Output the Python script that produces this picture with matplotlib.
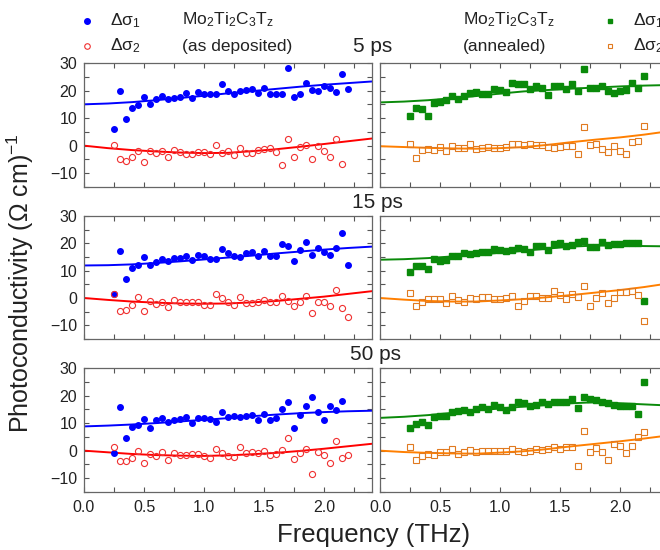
import matplotlib
matplotlib.use('Agg')
import numpy as np
import matplotlib.pyplot as plt
from matplotlib.ticker import MultipleLocator

plt.rcParams['font.family'] = ['Liberation Sans', 'DejaVu Sans']
plt.rcParams['mathtext.fontset'] = 'custom'
plt.rcParams['mathtext.rm'] = 'Liberation Sans'
plt.rcParams['mathtext.it'] = 'Liberation Sans:italic'
plt.rcParams['mathtext.default'] = 'regular'

# frequency grid of the measured points (THz)
freq = [0.25, 0.30, 0.35, 0.40, 0.45, 0.50, 0.55, 0.60, 0.65, 0.70,
        0.75, 0.80, 0.85, 0.90, 0.95, 1.00, 1.05, 1.10, 1.15, 1.20,
        1.25, 1.30, 1.35, 1.40, 1.45, 1.50, 1.55, 1.60, 1.65, 1.70,
        1.75, 1.80, 1.85, 1.90, 1.95, 2.00, 2.05, 2.10, 2.15, 2.20]
# frequencies where the fit curves were read
fit_freq = [0.0, 0.2, 0.4, 0.6, 0.8, 1.0, 1.2, 1.4, 1.6, 1.8, 2.0, 2.2, 2.4]

nan = np.nan

# as deposited, 5 ps
dep5_s1 = [6.0, 19.8, 9.7, 13.8, 14.7, 17.7, 15.1, 16.9, 18.0, 16.8,
           17.3, 17.7, 19.1, 17.4, 19.5, 18.9, 18.9, 18.8, 22.5, 19.8,
           18.9, 19.8, 20.1, 20.7, 19.2, 21.1, 18.7, 18.9, 18.9, 28.2,
           17.5, 18.7, 22.8, 20.1, 19.8, 21.5, 21.1, 19.4, 26.1, 20.5]
dep5_s2 = [0.1, -4.8, -5.4, -4.1, -1.8, -6.0, -1.8, -2.7, -2.0, -4.1,
           -1.4, -2.4, -2.9, -2.9, -2.3, -2.4, -2.9, 0.2, -2.7, -2.0,
           -3.3, -0.7, -2.7, -2.7, -1.4, -1.2, -1.0, -2.4, -6.9, 2.5,
           -4.2, -0.6, 0.1, -4.9, -0.2, -2.0, -4.2, 2.3, -6.6, nan]
dep5_fit1 = [15.0, 15.3, 15.8, 16.5, 17.3, 18.1, 19.0, 19.8, 20.6, 21.4, 22.1, 22.7, 23.3]
dep5_fit2 = [0.0, -0.9, -1.6, -2.1, -2.5, -2.7, -2.6, -2.0, -1.3, -0.4, 0.6, 1.6, 2.6]

# annealed, 5 ps
ann5_s1 = [10.9, 13.5, 13.3, 10.9, 15.6, 15.8, 16.4, 18.1, 17.1, 18.2,
           19.2, 19.4, 18.9, 18.7, 20.4, 20.3, 19.5, 22.8, 22.2, 22.2,
           20.5, 21.6, 21.1, 18.3, 21.5, 21.6, 20.5, 22.2, 20.0, 27.7,
           20.9, 20.9, 21.6, 19.8, 19.2, 19.9, 20.1, 22.8, 21.0, 25.3]
ann5_s2 = [0.6, -4.4, -1.7, -1.3, -1.7, -0.5, -1.9, -0.1, -0.7, -0.7,
           0.5, -1.2, -0.8, -0.5, -1.0, -1.0, -0.6, 0.7, 0.7, 0.1,
           0.7, 0.4, 0.1, -0.5, -0.8, -0.5, -0.2, -0.2, -3.0, 6.6,
           0.1, 0.6, -1.1, -2.3, -0.1, -1.8, -2.9, 1.4, 1.6, 7.2]
ann5_fit1 = [15.7, 16.0, 16.5, 17.2, 18.0, 18.9, 19.7, 20.2, 20.7, 21.1, 21.5, 21.8, 22.0]
ann5_fit2 = [-0.2, -0.5, -0.8, -1.0, -1.1, -0.9, -0.5, 0.3, 1.3, 2.2, 3.0, 4.0, 5.2]

# as deposited, 15 ps
dep15_s1 = [1.3, 17.2, 7.1, 11.0, 12.2, 15.1, 12.2, 13.1, 14.3, 13.4,
            14.6, 14.6, 15.5, 13.9, 15.9, 15.3, 14.3, 14.1, 17.8, 16.4,
            15.2, 15.1, 16.5, 17.0, 15.2, 17.3, 15.4, 15.4, 19.8, 18.9,
            13.4, 17.6, 20.4, 15.9, 18.2, 17.0, 15.8, 18.3, 23.7, 11.9]
dep15_s2 = [1.4, -4.7, -4.3, -2.5, 0.5, -4.7, -1.1, -2.2, -1.6, -3.4,
            -0.8, -1.3, -1.6, -1.6, -1.6, -2.5, -2.5, 1.4, -0.1, -1.6,
            -2.5, 0.4, -1.9, -1.9, -1.6, -0.7, -1.3, -1.6, 0.7, -1.1,
            -3.0, -1.3, 0.7, -5.5, -1.3, -1.6, -3.1, 2.8, -3.5, -7.0]
dep15_fit1 = [11.9, 12.0, 12.3, 12.8, 13.4, 14.1, 14.8, 15.5, 16.3, 17.0, 17.7, 18.3, 18.8]
dep15_fit2 = [0.0, -0.7, -1.3, -1.7, -2.0, -2.1, -2.0, -1.6, -1.1, -0.3, 0.5, 1.5, 2.5]

# annealed, 15 ps
ann15_s1 = [9.5, 11.6, 11.8, 10.5, 14.3, 13.4, 14.0, 15.4, 15.3, 16.5,
            16.1, 16.5, 16.7, 16.7, 18.0, 17.6, 17.3, 17.6, 18.3, 18.1,
            17.0, 19.2, 18.9, 17.7, 19.6, 20.0, 18.9, 19.4, 20.6, 20.8,
            18.6, 18.6, 20.6, 19.4, 19.6, 19.9, 20.0, 20.0, 20.0, -1.1]
ann15_s2 = [1.9, -3.1, -1.6, -0.5, -0.5, -0.5, -1.7, 0.6, -0.8, -1.6,
            0.0, -0.5, 0.4, 0.4, -0.4, -0.4, 0.0, 0.7, -3.1, -1.1,
            0.8, 0.8, 0.1, 0.1, 2.5, 1.1, -0.4, 1.3, 0.2, 4.3,
            -2.9, -0.1, 1.7, -1.9, -0.1, 2.2, 2.2, 2.5, 1.1, -8.3]
ann15_fit1 = [14.0, 14.2, 14.6, 15.2, 15.8, 16.5, 17.3, 18.1, 18.8, 19.2, 19.2, 19.0, 18.9]
ann15_fit2 = [0.0, -0.6, -1.1, -1.3, -1.3, -0.9, -0.4, 0.3, 1.1, 2.0, 2.9, 4.0, 5.3]

# as deposited, 50 ps
dep50_s1 = [-0.8, 15.8, 4.6, 8.6, 9.3, 11.4, 8.2, 11.0, 11.7, 10.4,
            11.0, 11.4, 12.2, 9.9, 11.9, 12.0, 11.4, 10.5, 14.1, 12.2,
            12.7, 12.3, 12.7, 13.1, 11.2, 13.4, 11.2, 12.0, 15.1, 17.8,
            8.2, 12.8, 16.3, 19.3, 14.0, 11.1, 16.3, 14.9, 18.1, nan]
dep50_s2 = [1.2, -3.6, -3.6, -2.5, -0.2, -4.5, -1.1, -1.8, -0.5, -3.3,
            -0.8, -1.7, -1.7, -1.1, -1.1, -1.8, -2.8, 0.6, -0.8, -1.8,
            -2.3, 1.2, -0.8, -0.5, -0.8, -0.2, -1.4, -1.1, 0.4, 4.5,
            -3.0, -0.8, 0.6, -8.3, -0.6, -1.7, -4.5, 3.4, -2.7, -1.7]
dep50_fit1 = [8.8, 9.1, 9.5, 10.0, 10.6, 11.2, 11.8, 12.5, 13.1, 13.6, 14.0, 14.3, 14.5]
dep50_fit2 = [0.0, -0.6, -1.2, -1.6, -1.8, -1.9, -1.7, -1.3, -0.8, -0.1, 0.7, 1.6, 2.5]

# annealed, 50 ps
ann50_s1 = [8.3, 9.6, 10.4, 9.2, 12.3, 12.5, 12.7, 14.0, 14.5, 14.7,
            14.2, 15.3, 15.7, 15.2, 16.4, 16.0, 14.9, 16.0, 17.5, 17.2,
            16.1, 16.7, 17.5, 17.0, 17.5, 17.5, 17.5, 18.7, 15.5, 19.4,
            18.8, 18.4, 17.7, 17.2, 16.4, 16.3, 16.3, 16.3, 13.4, 24.8]
ann50_s2 = [1.3, -3.3, -2.0, -1.1, -1.7, -0.5, -0.4, 0.6, -1.1, -0.6,
            0.2, -0.5, 0.0, 0.0, 0.0, -0.2, 0.0, 0.7, 0.0, -0.5,
            0.0, 0.7, 0.4, 0.6, 1.2, 0.6, 1.3, 1.3, -5.7, 7.0,
            -0.6, 1.0, -0.6, -3.3, 2.5, 1.8, -0.8, 1.8, 4.9, 6.7]
ann50_fit1 = [11.9, 12.3, 12.9, 13.7, 14.6, 15.3, 16.0, 16.6, 17.2, 17.6, 17.2, 16.8, 16.4]
ann50_fit2 = [0.0, -0.5, -0.8, -1.0, -1.1, -0.7, -0.2, 0.6, 1.6, 2.5, 3.4, 4.4, 5.5]

delays = ['5 ps', '15 ps', '50 ps']
dep_rows = [(dep5_s1, dep5_s2, dep5_fit1, dep5_fit2),
            (dep15_s1, dep15_s2, dep15_fit1, dep15_fit2),
            (dep50_s1, dep50_s2, dep50_fit1, dep50_fit2)]
ann_rows = [(ann5_s1, ann5_s2, ann5_fit1, ann5_fit2),
            (ann15_s1, ann15_s2, ann15_fit1, ann15_fit2),
            (ann50_s1, ann50_s2, ann50_fit1, ann50_fit2)]

blue, red = '#0000ff', '#ff0000'
red_pt = '#f03030'
green, orange = '#0a8a0a', '#ff7f00'
orange_pt = '#e07a20'

W, H = 660, 550
fig = plt.figure(figsize=(6.6, 5.5), dpi=100)

# panel boxes in pixels: (top, bottom)
row_px = [(63, 187), (216, 339), (368, 492)]
col_px = [84, 380]
pw = 288


def style_axes(ax, xlabels, ylabels):
    ax.set_xlim(0, 2.4)
    ax.set_ylim(-15, 30)
    ax.xaxis.set_major_locator(MultipleLocator(0.5))
    ax.xaxis.set_minor_locator(MultipleLocator(0.25))
    ax.yaxis.set_major_locator(MultipleLocator(10))
    ax.yaxis.set_minor_locator(MultipleLocator(5))
    ax.tick_params(which='both', direction='in', top=True, right=True,
                   color='#555555', labelsize=11.5, labelcolor='#222222')
    ax.tick_params(which='major', length=3.5, width=0.8)
    ax.tick_params(which='minor', length=3.5, width=0.8)
    ax.tick_params(axis='x', pad=6)
    ax.tick_params(axis='y', pad=5)
    if not xlabels:
        ax.tick_params(axis='x', labelbottom=False)
    if not ylabels:
        ax.tick_params(axis='y', labelleft=False)
    for sp in ax.spines.values():
        sp.set_color('#666666')
        sp.set_linewidth(0.9)
    ax.set_facecolor('none')


for i in range(3):
    top, bot = row_px[i]
    for j in range(2):
        ax = fig.add_axes([col_px[j] / W, 1 - bot / H, pw / W, (bot - top) / H])
        style_axes(ax, xlabels=(i == 2), ylabels=(j == 0))
        if j == 0:
            s1, s2, f1, f2 = dep_rows[i]
            ax.plot(fit_freq, f1, color=blue, lw=1.4, zorder=2)
            ax.plot(fit_freq, f2, color=red, lw=1.4, zorder=2)
            ax.plot(freq, s1, 'o', color=blue, ms=4.0, mec=blue, zorder=3)
            ax.plot(freq, s2, 'o', mfc='none', mec=red_pt, ms=4.4, mew=0.8, zorder=3)
        else:
            s1, s2, f1, f2 = ann_rows[i]
            ax.plot(fit_freq, f1, color=green, lw=1.4, zorder=2)
            ax.plot(fit_freq, f2, color=orange, lw=1.4, zorder=2)
            ax.plot(freq, s1, 's', color=green, ms=3.8, mec=green, zorder=3)
            ax.plot(freq, s2, 's', mfc='none', mec=orange_pt, ms=3.8, mew=0.8, zorder=3)

# overlay in pixel coordinates for the legend and labels
ov = fig.add_axes([0, 0, 1, 1])
ov.set_xlim(0, W)
ov.set_ylim(H, 0)
ov.axis('off')

ov.plot(87, 21, 'o', color=blue, ms=4)
ov.plot(87, 46, 'o', mfc='none', mec=red_pt, ms=4, mew=0.8)
ov.text(110, 21, r'$\Delta\sigma_1$', fontsize=12.5, va='center', color='#222222')
ov.text(110, 46, r'$\Delta\sigma_2$', fontsize=12.5, va='center', color='#222222')
ov.text(182, 20, 'Mo$_2$Ti$_2$C$_3$T$_z$', fontsize=12.5, va='center', color='#222222')
ov.text(182, 46, '(as deposited)', fontsize=12.5, va='center', color='#222222')

ov.text(463, 20, 'Mo$_2$Ti$_2$C$_3$T$_z$', fontsize=12.5, va='center', color='#222222')
ov.text(463, 46, '(annealed)', fontsize=12.5, va='center', color='#222222')
ov.plot(610, 21, 's', color=green, ms=3.5)
ov.plot(610, 46, 's', mfc='none', mec=orange_pt, ms=3.5, mew=0.8)
# these two run off the right edge, as in the original figure
ov.text(633, 21, r'$\Delta\sigma_1$', fontsize=12.5, va='center', color='#222222')
ov.text(633, 46, r'$\Delta\sigma_2$', fontsize=12.5, va='center', color='#222222')

for lab, (x, y) in zip(delays, [(373, 46), (377, 202), (375, 355)]):
    ov.text(x, y, lab, fontsize=15, ha='center', va='center', color='#222222')

ov.text(20, 283, r'Photoconductivity ($\Omega$ cm)$^{-1}$', fontsize=18, rotation=90,
        ha='center', va='center', color='#222222')
ov.text(374, 535, 'Frequency (THz)', fontsize=18.5, ha='center', va='center', color='#222222')

fig.savefig('out.png', dpi=100)
